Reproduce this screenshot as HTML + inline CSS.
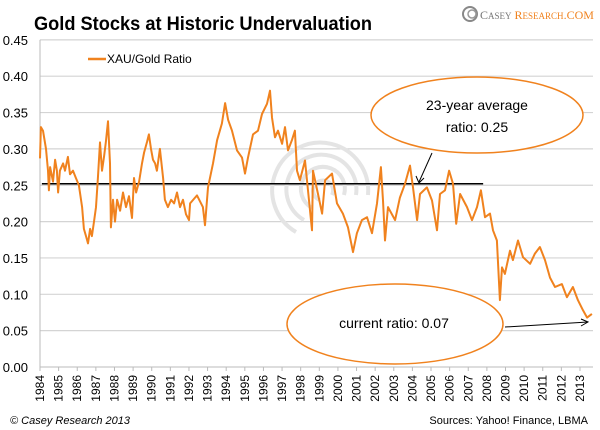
<!DOCTYPE html>
<html><head><meta charset="utf-8"><style>
html,body{margin:0;padding:0;background:#fff;}
svg{display:block;font-family:"Liberation Sans",sans-serif;}
</style></head><body>
<svg id="chart" width="600" height="430" viewBox="0 0 600 430">
<text x="34" y="30" font-size="19" font-weight="bold" fill="#000" textLength="338" lengthAdjust="spacingAndGlyphs">Gold Stocks at Historic Undervaluation</text>
<g>
<circle cx="470" cy="14" r="7" fill="none" stroke="#888" stroke-width="2"/>
<circle cx="472" cy="14" r="4" fill="none" stroke="#999" stroke-width="1.5"/>
<text x="480" y="19" font-size="12" font-family="Liberation Serif,serif" fill="#777">C<tspan font-size="9">ASEY</tspan> <tspan fill="#f0821e">R<tspan font-size="9">ESEARCH</tspan>.COM</tspan></text>
</g>
<g id="grid"></g>
<g id="watermark" fill="none" stroke="#e4e4e4" stroke-width="4">
<path d="M296 232 A48 48 0 1 1 368 195"/><path d="M304 220 A35 35 0 1 1 356 195"/><path d="M312 208 A22 22 0 1 1 344 195"/><path d="M320 200 A10 10 0 1 1 332 195"/>
</g>
<g id="axes"></g>
<line id="avg" stroke="#000" stroke-width="1.5"/>
<path id="series" fill="none" stroke="#f0821e" stroke-width="2" stroke-linejoin="round"/>
<g>
<line x1="88" y1="59" x2="106" y2="59" stroke="#f0821e" stroke-width="2.5"/>
<text x="107" y="63" font-size="12" fill="#000">XAU/Gold Ratio</text>
</g>
<g>
<ellipse cx="477" cy="115" rx="106" ry="38" fill="#fff" stroke="#f0821e" stroke-width="1.5"/>
<text x="477" y="110" font-size="14" text-anchor="middle">23-year average</text>
<text x="477" y="132" font-size="14" text-anchor="middle">ratio: 0.25</text>
<line x1="432" y1="153" x2="419" y2="182" stroke="#000" stroke-width="1"/>
<path d="M416 176 L419 183 L424 178" fill="none" stroke="#000" stroke-width="1"/>
</g>
<g>
<ellipse cx="395" cy="324" rx="108" ry="40" fill="#fff" stroke="#f0821e" stroke-width="1.5"/>
<text x="394" y="328" font-size="14" text-anchor="middle">current ratio: 0.07</text>
<line x1="505" y1="327" x2="588" y2="322" stroke="#000" stroke-width="1"/>
<path d="M581 319 L588 322 L581 326" fill="none" stroke="#000" stroke-width="1"/>
</g>
<text x="10" y="424" font-size="11" font-style="italic" fill="#000">© Casey Research 2013</text>
<text x="588" y="424" font-size="11" text-anchor="end" fill="#000">Sources: Yahoo! Finance, LBMA</text>
</svg>
<script>
const years=[1984.0,1984.05,1984.16,1984.32,1984.43,1984.48,1984.54,1984.70,1984.81,1984.91,1984.97,1985.07,1985.24,1985.34,1985.50,1985.61,1985.77,1985.93,1986.09,1986.26,1986.36,1986.47,1986.58,1986.69,1986.79,1986.90,1987.01,1987.11,1987.22,1987.33,1987.44,1987.54,1987.65,1987.76,1987.81,1987.92,1988.03,1988.14,1988.30,1988.46,1988.62,1988.78,1988.94,1989.05,1989.16,1989.32,1989.48,1989.59,1989.75,1989.85,1989.96,1990.07,1990.18,1990.28,1990.44,1990.61,1990.71,1990.87,1991.04,1991.20,1991.36,1991.52,1991.68,1991.84,1992.00,1992.06,1992.43,1992.75,1992.86,1993.02,1993.29,1993.51,1993.77,1993.94,1994.10,1994.31,1994.58,1994.85,1995.01,1995.17,1995.44,1995.71,1995.92,1996.19,1996.35,1996.46,1996.62,1996.78,1997.00,1997.16,1997.32,1997.53,1997.69,1997.80,1997.96,1998.23,1998.61,1998.66,1998.93,1999.15,1999.31,1999.68,1999.95,2000.27,2000.54,2000.81,2001.02,2001.29,2001.56,2001.83,2002.10,2002.31,2002.42,2002.53,2002.69,2003.07,2003.33,2003.60,2003.87,2004.03,2004.25,2004.41,2004.78,2005.05,2005.32,2005.48,2005.75,2005.97,2006.18,2006.35,2006.56,2006.93,2007.20,2007.47,2007.68,2007.90,2008.17,2008.33,2008.54,2008.70,2008.81,2008.97,2009.24,2009.40,2009.67,2009.94,2010.32,2010.58,2010.85,2011.12,2011.39,2011.66,2012.03,2012.30,2012.62,2012.89,2013.16,2013.38,2013.64];
const ratios=[0.287,0.33,0.325,0.30,0.27,0.243,0.275,0.255,0.285,0.27,0.24,0.27,0.28,0.27,0.289,0.265,0.27,0.26,0.25,0.22,0.19,0.18,0.17,0.19,0.18,0.20,0.22,0.26,0.309,0.27,0.29,0.31,0.338,0.28,0.192,0.23,0.20,0.23,0.215,0.24,0.22,0.235,0.205,0.26,0.24,0.255,0.28,0.295,0.31,0.32,0.30,0.285,0.28,0.27,0.30,0.26,0.23,0.22,0.23,0.225,0.24,0.22,0.23,0.21,0.202,0.225,0.236,0.22,0.195,0.247,0.28,0.312,0.335,0.363,0.34,0.325,0.298,0.288,0.266,0.288,0.32,0.325,0.348,0.362,0.38,0.343,0.316,0.325,0.307,0.33,0.298,0.312,0.325,0.27,0.257,0.284,0.188,0.27,0.238,0.211,0.257,0.266,0.225,0.211,0.192,0.158,0.184,0.202,0.206,0.184,0.225,0.275,0.229,0.174,0.22,0.202,0.233,0.252,0.277,0.247,0.202,0.238,0.247,0.229,0.188,0.238,0.243,0.27,0.252,0.197,0.238,0.22,0.202,0.22,0.243,0.206,0.211,0.188,0.174,0.092,0.137,0.128,0.16,0.147,0.174,0.151,0.142,0.156,0.165,0.147,0.123,0.11,0.114,0.096,0.11,0.092,0.078,0.068,0.073];
const yTicks=[0,0.05,0.10,0.15,0.20,0.25,0.30,0.35,0.40,0.45];
const yTickLabels=["0.00","0.05","0.10","0.15","0.20","0.25","0.30","0.35","0.40","0.45"];
const xLabels=[1984,1985,1986,1987,1988,1989,1990,1991,1992,1993,1994,1995,1996,1997,1998,1999,2000,2001,2002,2003,2004,2005,2006,2007,2008,2009,2010,2011,2012,2013];
const average=[0.252];
const avgSpan=[1984.1,2007.8];

const NS="http://www.w3.org/2000/svg";
const X0=40,X1=593,Y0=367;
const xs=t=>X0+(t-1984)*18.62;
const ys=v=>Y0-v*727;
function mk(tag,attrs,parent){const e=document.createElementNS(NS,tag);for(const k in attrs)e.setAttribute(k,attrs[k]);parent.appendChild(e);return e;}
const grid=document.getElementById('grid'),axes=document.getElementById('axes');
yTicks.forEach((v,i)=>{
  if(v>0){const g=mk('line',{x1:X0,x2:X1,y1:ys(v),y2:ys(v),stroke:'#d4d4d4','stroke-width':1.2},grid);
  
  }
  const t=mk('text',{x:28,y:ys(v)+5,'font-size':13,'text-anchor':'end',fill:'#000'},axes);
  t.textContent=yTickLabels[i];
  
  
});
const ya=mk('line',{x1:X0,x2:X0,y1:ys(0.45),y2:Y0,stroke:'#bbb'},axes);


const xa=mk('line',{x1:X0,x2:X1,y1:Y0,y2:Y0,stroke:'#bbb'},axes);


xLabels.forEach(yr=>{
  const x=xs(yr);
  mk('line',{x1:x,x2:x,y1:Y0,y2:Y0+4,stroke:'#bbb'},axes);
  const t=mk('text',{x:0,y:0,'font-size':12,'text-anchor':'end',fill:'#000',transform:`translate(${x+4},${Y0+8}) rotate(-90)`},axes);
  t.textContent=yr;
  
  
});
const avg=document.getElementById('avg');
avg.setAttribute('x1',xs(avgSpan[0]));avg.setAttribute('x2',xs(avgSpan[1]));
avg.setAttribute('y1',ys(average[0]));avg.setAttribute('y2',ys(average[0]));
document.getElementById('series').setAttribute('d',years.map((t,i)=>(i?'L':'M')+xs(t).toFixed(1)+' '+ys(ratios[i]).toFixed(1)).join(' '));
</script>
</body></html>
